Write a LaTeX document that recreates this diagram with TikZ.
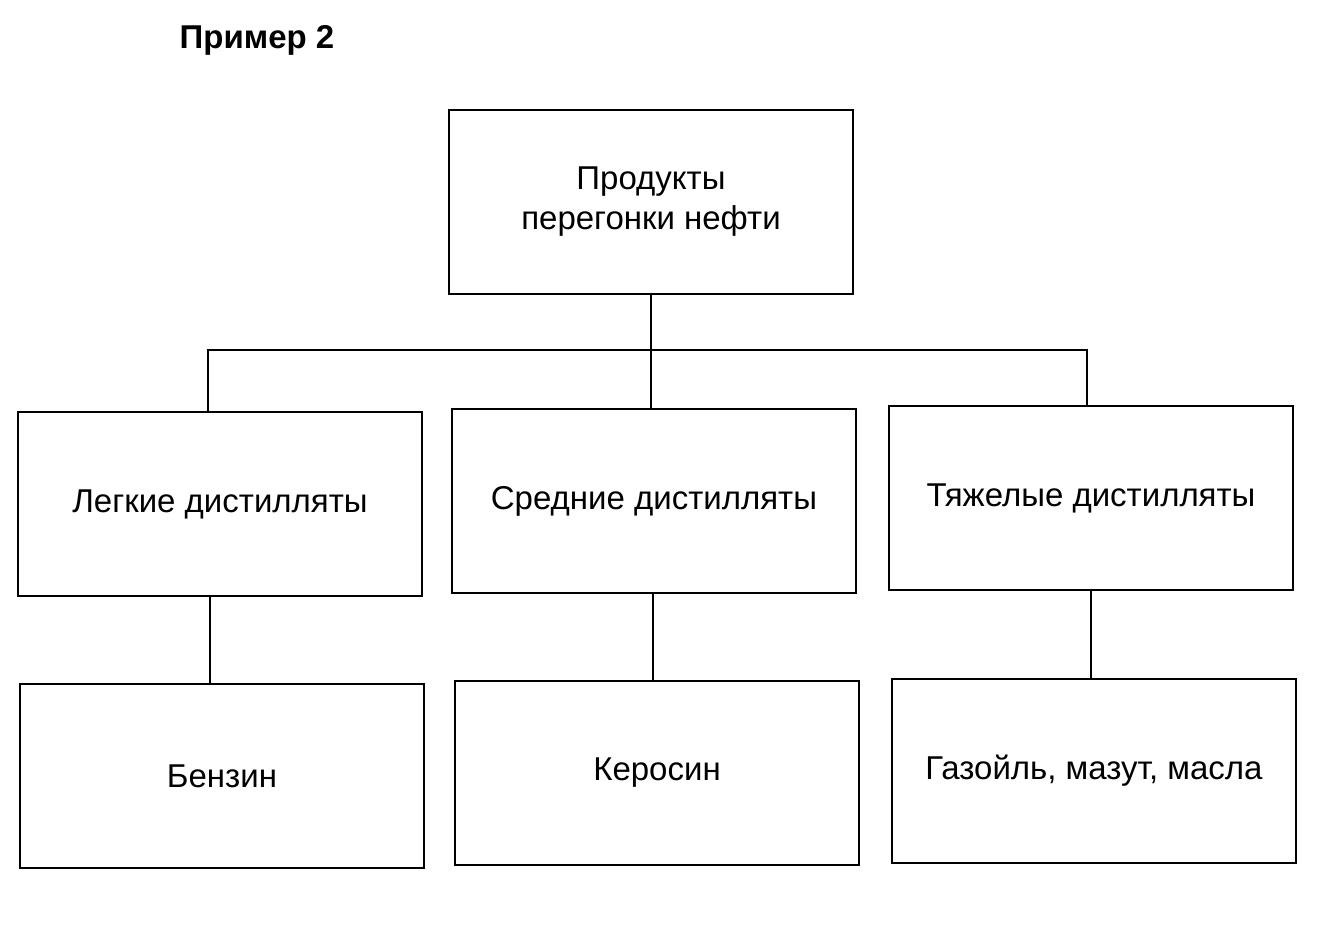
\documentclass[tikz,border=0pt]{standalone}
\usepackage{fontspec}
\setmainfont{Liberation Sans}
\tikzset{
  font={\fontsize{16.5pt}{20pt}\selectfont}}
\begin{document}
\begin{tikzpicture}[x=0.5pt,y=-0.5pt,
  box/.style={draw,line width=1pt,minimum width=202pt,minimum height=92pt,
    align=center,inner sep=0pt}]
\useasboundingbox (0,0) rectangle (1335,925);
\node[font={\fontsize{16.5pt}{20pt}\selectfont\bfseries}] (title) at (257,40) {Пример 2};
\node[box] (top) at (651,202) {Продукты\\перегонки нефти};
\node[box] (light) at (220,504) {Легкие дистилляты};
\node[box] (mid) at (654,501) {Средние дистилляты};
\node[box] (heavy) at (1091,498) {Тяжелые дистилляты};
\node[box] (petrol) at (222,776) {Бензин};
\node[box] (kero) at (657,773) {Керосин};
\node[box] (gasoil) at (1094,771) {Газойль, мазут, масла};
\coordinate (bus) at (651,350);
\draw[line width=0.8pt] (top.south) -- (bus);
\draw[line width=0.8pt] (light.north -| 208,0) |- (bus) -| (heavy.north -| 1087,0);
\draw[line width=0.8pt] (bus) -- (mid.north -| bus);
\draw[line width=0.8pt] (light.south -| 210,0) -- (petrol.north -| 210,0);
\draw[line width=0.8pt] (mid.south -| 653,0) -- (kero.north -| 653,0);
\draw[line width=0.8pt] (heavy.south -| 1091,0) -- (gasoil.north -| 1091,0);
\end{tikzpicture}
\end{document}
